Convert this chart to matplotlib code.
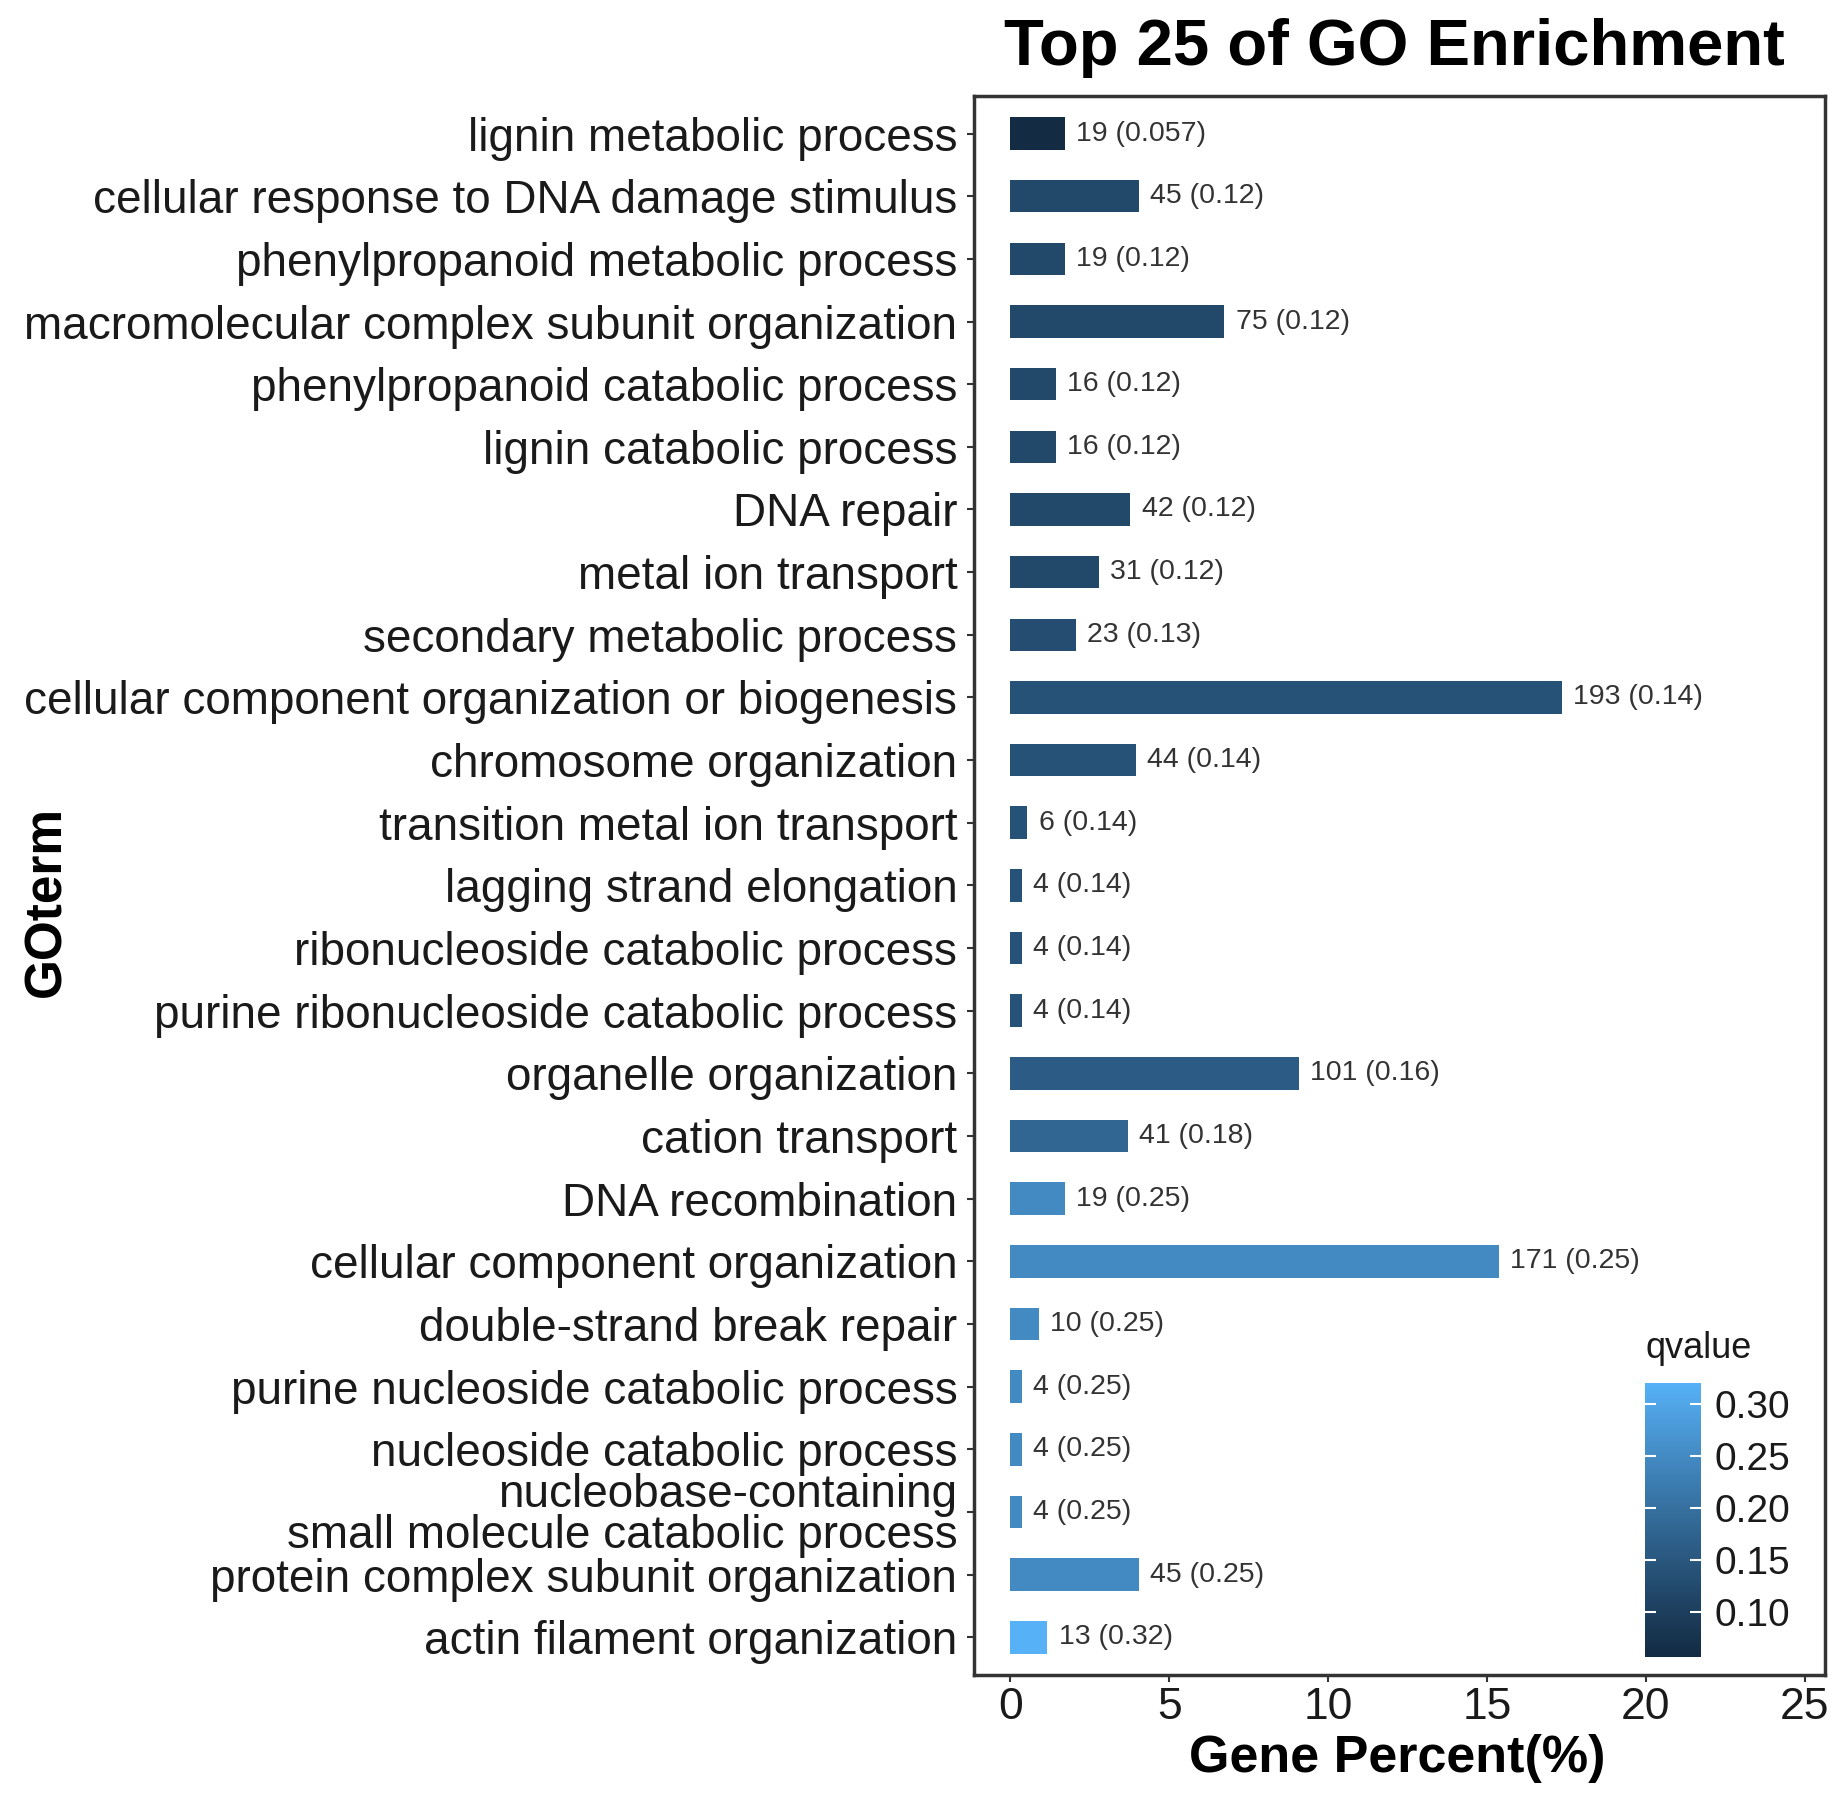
import numpy as np
import matplotlib
matplotlib.use("Agg")
import matplotlib.pyplot as plt
from matplotlib.colors import ListedColormap, Normalize

plt.rcParams["font.family"] = ["Liberation Sans", "DejaVu Sans"]

go_terms = [
    "lignin metabolic process",
    "cellular response to DNA damage stimulus",
    "phenylpropanoid metabolic process",
    "macromolecular complex subunit organization",
    "phenylpropanoid catabolic process",
    "lignin catabolic process",
    "DNA repair",
    "metal ion transport",
    "secondary metabolic process",
    "cellular component organization or biogenesis",
    "chromosome organization",
    "transition metal ion transport",
    "lagging strand elongation",
    "ribonucleoside catabolic process",
    "purine ribonucleoside catabolic process",
    "organelle organization",
    "cation transport",
    "DNA recombination",
    "cellular component organization",
    "double-strand break repair",
    "purine nucleoside catabolic process",
    "nucleoside catabolic process",
    "nucleobase-containing\nsmall molecule catabolic process",
    "protein complex subunit organization",
    "actin filament organization",
]
gene_counts = [19, 45, 19, 75, 16, 16, 42, 31, 23, 193, 44, 6, 4, 4, 4,
               101, 41, 19, 171, 10, 4, 4, 4, 45, 13]
gene_percent = [1.71, 4.05, 1.71, 6.74, 1.44, 1.44, 3.78, 2.79, 2.07, 17.36,
                3.96, 0.54, 0.36, 0.36, 0.36, 9.08, 3.69, 1.71, 15.38, 0.90,
                0.36, 0.36, 0.36, 4.05, 1.17]
qvalues = [0.057, 0.12, 0.12, 0.12, 0.12, 0.12, 0.12, 0.12, 0.13, 0.14,
           0.14, 0.14, 0.14, 0.14, 0.14, 0.16, 0.18, 0.25, 0.25, 0.25,
           0.25, 0.25, 0.25, 0.25, 0.32]
q_labels = ["0.057", "0.12", "0.12", "0.12", "0.12", "0.12", "0.12", "0.12",
            "0.13", "0.14", "0.14", "0.14", "0.14", "0.14", "0.14", "0.16",
            "0.18", "0.25", "0.25", "0.25", "0.25", "0.25", "0.25", "0.25",
            "0.32"]
x_ticks = [0, 5, 10, 15, 20, 25]
cbar_ticks = [0.10, 0.15, 0.20, 0.25, 0.30]


# ggplot-like gradient (#132B43 -> #56B1F7) interpolated in Lab space
def _hex_to_rgb(h):
    h = h.lstrip("#")
    return np.array([int(h[i:i + 2], 16) / 255.0 for i in (0, 2, 4)])


_M = np.array([[0.4124564, 0.3575761, 0.1804375],
               [0.2126729, 0.7151522, 0.0721750],
               [0.0193339, 0.1191920, 0.9503041]])
_WHITE = np.array([0.95047, 1.0, 1.08883])


def _rgb_to_lab(rgb):
    lin = np.where(rgb <= 0.04045, rgb / 12.92, ((rgb + 0.055) / 1.055) ** 2.4)
    xyz = _M @ lin / _WHITE
    f = np.where(xyz > 0.008856, np.cbrt(xyz), 7.787 * xyz + 16 / 116)
    return np.array([116 * f[1] - 16, 500 * (f[0] - f[1]), 200 * (f[1] - f[2])])


def _lab_to_rgb(lab):
    fy = (lab[0] + 16) / 116
    fx = fy + lab[1] / 500
    fz = fy - lab[2] / 200
    f = np.array([fx, fy, fz])
    xyz = np.where(f > 0.206893, f ** 3, (f - 16 / 116) / 7.787) * _WHITE
    lin = np.linalg.solve(_M, xyz)
    lin = np.clip(lin, 0, 1)
    rgb = np.where(lin <= 0.0031308, 12.92 * lin, 1.055 * lin ** (1 / 2.4) - 0.055)
    return np.clip(rgb, 0, 1)


lab_lo = _rgb_to_lab(_hex_to_rgb("#132B43"))
lab_hi = _rgb_to_lab(_hex_to_rgb("#56B1F7"))
cmap = ListedColormap([_lab_to_rgb(lab_lo + t * (lab_hi - lab_lo))
                       for t in np.linspace(0, 1, 256)])
norm = Normalize(vmin=min(qvalues), vmax=max(qvalues))

fig = plt.figure(figsize=(18.43, 18.03), dpi=100)
ax = fig.add_axes([0.5285, 0.0710, 0.4617, 0.8758])

ypos = np.arange(len(go_terms))
ax.barh(ypos, gene_percent, height=0.52, color=cmap(norm(np.array(qvalues))))

for y, pct, n, ql in zip(ypos, gene_percent, gene_counts, q_labels):
    ax.annotate(f"{n} ({ql})", (pct, y), xytext=(8, 0), textcoords="offset points",
                ha="left", va="center", fontsize=20.5, color="#333333")

ax.set_yticks(ypos)
ax.set_yticklabels(go_terms)
for lbl in ax.get_yticklabels():
    lbl.set_linespacing(0.92)
ax.set_ylim(len(go_terms) - 0.4, -0.6)
ax.set_xlim(-1.14, 25.63)
ax.set_xticks(x_ticks)
ax.tick_params(axis="y", labelsize=33, length=5, width=1.5, pad=7,
               color="#333333", labelcolor="#1a1a1a")
ax.tick_params(axis="x", labelsize=32, length=5, width=1.5, pad=4,
               color="#333333", labelcolor="#1a1a1a")
for sp in ax.spines.values():
    sp.set_linewidth(2.5)
    sp.set_color("#333333")

fig.text(0.7565, 0.964, "Top 25 of GO Enrichment", ha="center", va="baseline",
         fontsize=47, fontweight="bold")
fig.text(0.758, 0.017, "Gene Percent(%)", ha="center", va="baseline",
         fontsize=37.5, fontweight="bold")
fig.text(0.0255, 0.50, "GOterm", ha="center", va="center", rotation=90,
         fontsize=37, fontweight="bold")

# colour legend inside the panel
cax = fig.add_axes([0.8926, 0.0810, 0.0304, 0.152])
sm = plt.cm.ScalarMappable(norm=norm, cmap=cmap)
cb = fig.colorbar(sm, cax=cax, ticks=cbar_ticks)
cb.outline.set_visible(False)
cb.ax.set_yticklabels([f"{t:.2f}" for t in cbar_ticks])
cax.tick_params(left=True, right=True, direction="in", length=8, width=1.5,
                color="white", labelsize=28, labelcolor="#1a1a1a", pad=10)
fig.text(0.8926, 0.252, "qvalue", ha="left", va="center", fontsize=26,
         color="#1a1a1a")

fig.savefig("out.png", dpi=100)
